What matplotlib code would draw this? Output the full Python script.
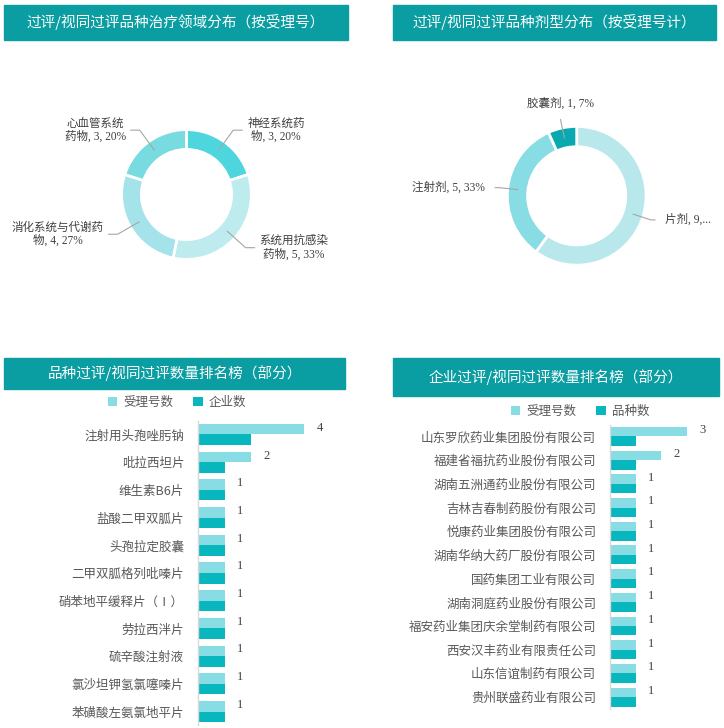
import numpy as np
import matplotlib
matplotlib.use('Agg')
import matplotlib.pyplot as plt
from matplotlib.patches import Rectangle

plt.rcParams['font.family'] = ['Noto Sans CJK SC', 'DejaVu Sans']

W, H = 724, 728
TEAL = '#0A9EA3'
TXT = '#595959'
LAB = '#404040'
LEADER = '#A6A6A6'
LIGHT = '#88DCE3'
DARK = '#08B6BE'
NUMFONT = ['Liberation Serif', 'Noto Sans CJK SC']

# 治疗领域分布（按受理号）
area_names = ['神经系统药物', '系统用抗感染药物', '消化系统与代谢药物', '心血管系统药物']
area_values = [3, 5, 4, 3]
area_colors = ['#4DD6DD', '#BEEBEE', '#A3E3E9', '#77DBE0']
area_wrap = [5, 6, 8, 5]

# 剂型分布（按受理号计）
form_names = ['片剂', '注射剂', '胶囊剂']
form_values = [9, 5, 1]
form_colors = ['#B8E8EC', '#88DCE3', '#08AAB0']

# 品种排名
drug_names = ['注射用头孢唑肟钠', '吡拉西坦片', '维生素B6片', '盐酸二甲双胍片', '头孢拉定胶囊',
              '二甲双胍格列吡嗪片', '硝苯地平缓释片（Ⅰ）', '劳拉西泮片', '硫辛酸注射液',
              '氯沙坦钾氢氯噻嗪片', '苯磺酸左氨氯地平片']
drug_accept = [4, 2, 1, 1, 1, 1, 1, 1, 1, 1, 1]
drug_firms = [2, 1, 1, 1, 1, 1, 1, 1, 1, 1, 1]

# 企业排名
firm_names = ['山东罗欣药业集团股份有限公司', '福建省福抗药业股份有限公司', '湖南五洲通药业股份有限公司',
              '吉林吉春制药股份有限公司', '悦康药业集团股份有限公司', '湖南华纳大药厂股份有限公司',
              '国药集团工业有限公司', '湖南洞庭药业股份有限公司', '福安药业集团庆余堂制药有限公司',
              '西安汉丰药业有限责任公司', '山东信谊制药有限公司', '贵州联盛药业有限公司']
firm_accept = [3, 2, 1, 1, 1, 1, 1, 1, 1, 1, 1, 1]
firm_varieties = [1, 1, 1, 1, 1, 1, 1, 1, 1, 1, 1, 1]

fig = plt.figure(figsize=(W / 100, H / 100), dpi=100)


def px_rect(x0, y0, x1, y1):
    return [x0 / W, 1 - y1 / H, (x1 - x0) / W, (y1 - y0) / H]


def title_bar(x0, y0, x1, y1, text):
    fig.patches.append(Rectangle((x0 / W, 1 - y1 / H), (x1 - x0) / W, (y1 - y0) / H,
                                 transform=fig.transFigure, color=TEAL, zorder=0))
    fig.text((x0 + x1) / 2 / W, 1 - (y0 + y1) / 2 / H, text, color='white',
             fontsize=10.5, ha='center', va='center')


def donut(ax, cx, cy, R, ring, values, colors, labels, out, hseg, gap):
    # white edge eats ~1.4px on each side, so draw slightly bigger
    wedges, _ = ax.pie(values, colors=colors, startangle=90, counterclock=False,
                       center=(cx, H - cy), radius=R + 1.4,
                       wedgeprops=dict(width=ring + 2.8, edgecolor='white', linewidth=2))
    for w, lab in zip(wedges, labels):
        a = np.deg2rad((w.theta1 + w.theta2) / 2)
        ca, sa = np.cos(a), np.sin(a)
        rm = R - ring / 2
        x0, y0 = cx + rm * ca, H - cy + rm * sa
        x1, y1 = cx + (R + out) * ca, H - cy + (R + out) * sa
        if abs(ca) < 0.3:
            ax.plot([x0, x1], [y0, y1], color=LEADER, lw=0.8)
            ax.text(x1, y1 + gap, lab, ha='center', va='bottom', fontsize=8.3,
                    color=LAB, family=NUMFONT, multialignment='center', linespacing=1.1)
        else:
            s = 1 if ca > 0 else -1
            x2 = x1 + s * hseg
            ax.plot([x0, x1, x2], [y0, y1, y1], color=LEADER, lw=0.8)
            ax.text(x2 + s * gap, y1, lab, ha='left' if s > 0 else 'right', va='center',
                    fontsize=8.3, color=LAB, family=NUMFONT, multialignment='center',
                    linespacing=1.1)


def pct_labels(names, values):
    tot = sum(values)
    return ['{}, {}, {}%'.format(n, v, int(round(v * 100 / tot))) for n, v in zip(names, values)]


bg = fig.add_axes([0, 0, 1, 1])

# donut 1
labs = pct_labels(area_names, area_values)
labs = [l[:k] + '\n' + l[k:] for l, k in zip(labs, area_wrap)]
donut(bg, 186.5, 194.5, 63.5, 17, area_values, area_colors, labs, out=16, hseg=9, gap=5)

# donut 2
labs = pct_labels(form_names, form_values)
labs[0] = labs[0][:6] + '...'
donut(bg, 576.7, 195.8, 68, 17.5, form_values, form_colors, labs, out=10, hseg=4, gap=10)

bg.set_xlim(0, W)
bg.set_ylim(0, H)
bg.set_aspect('auto')
bg.axis('off')

title_bar(4, 5, 348, 40, '过评/视同过评品种治疗领域分布（按受理号）')
title_bar(393, 5, 716, 40, '过评/视同过评品种剂型分布（按受理号计）')
title_bar(4, 358, 345, 389, '品种过评/视同过评数量排名榜（部分）')
title_bar(393, 358, 719, 396, '企业过评/视同过评数量排名榜（部分）')


def bar_panel(rect, xmax, names, a, b, labs, h, leg_xy):
    ax = fig.add_axes(rect)
    n = len(names)
    y = np.arange(n)
    b1 = ax.barh(y - h / 2, a, height=h, color=LIGHT, label=labs[0])
    b2 = ax.barh(y + h / 2, b, height=h, color=DARK, label=labs[1])
    for yi, v in zip(y, a):
        ax.annotate(str(v), (v, yi - h / 2), xytext=(9, 1), textcoords='offset points',
                    ha='left', va='center', fontsize=9, color=LAB, family=NUMFONT)
    ax.set_xlim(0, xmax)
    ax.set_ylim(n - 0.5, -0.5)
    ax.set_xticks([])
    ax.set_yticks(y)
    ax.set_yticklabels(names, fontsize=9, color=TXT)
    ax.tick_params(axis='y', length=0, pad=10)
    for sp in ['top', 'right', 'bottom']:
        ax.spines[sp].set_visible(False)
    ax.spines['left'].set_color('#D9D9D9')
    ax.spines['left'].set_linewidth(1)
    ax.patch.set_alpha(0)
    fig.legend(handles=[b1, b2], loc='center', bbox_to_anchor=(leg_xy[0] / W, 1 - leg_xy[1] / H),
               ncol=2, frameon=False, fontsize=9, handlelength=0.75, handleheight=0.75,
               handletextpad=0.5, columnspacing=1.6, labelcolor=TXT)
    return ax


bar_panel(px_rect(198, 420.6, 198 + 26.5 * 5, 725.4), 5, drug_names, drug_accept, drug_firms,
          ['受理号数', '企业数'], 0.38, (177, 402))
bar_panel(px_rect(610, 424.6, 610 + 25.7 * 4, 708.9), 4, firm_names, firm_accept, firm_varieties,
          ['受理号数', '品种数'], 0.40, (580, 411))

fig.savefig('out.png', dpi=100, facecolor='white')
